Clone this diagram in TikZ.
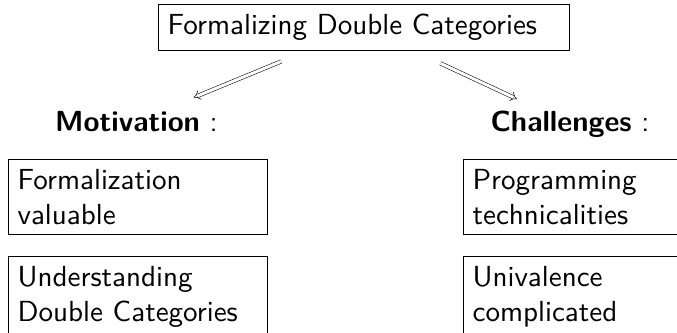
\documentclass[tikz,border=0pt]{standalone}
\usepackage{fontspec}
\setsansfont{lmsans10-regular.otf}[BoldFont=lmsans10-bold.otf]
\usetikzlibrary{arrows.meta}
\renewcommand{\familydefault}{\sfdefault}
\tikzset{
	every node/.style={font=\fontsize{21.8}{26}\selectfont},
	topbox/.style={draw, anchor=west, align=left, text width=294pt, inner xsep=7pt, inner ysep=7.5pt},
	itembox/.style={draw, anchor=north west, align=left, text width=180pt, inner xsep=7pt, inner ysep=7.5pt},
	heading/.style={anchor=base},
	implies/.style={draw, thin, double, double distance=2.2pt, -{Implies[scale=1.4]}},
}
\begin{document}
\begin{tikzpicture}[x=0.75pt, y=-0.75pt]
	\useasboundingbox (0,0) rectangle (677,332);
	\clip (0,0) rectangle (677,332);
	\node[topbox] (top) at (158,27.5) {Formalizing Double Categories};

	\node[heading] (motiv) at (136.5,131) {\textbf{Motivation} :};
	\node[heading] (chall) at (570,131) {\textbf{Challenges} :};

	\draw[implies, shorten <=20.6pt, shorten >=17pt] (top) -- (motiv);
	\draw[implies, shorten <=21.8pt, shorten >=12pt] (top) -- (chall);

	\node[itembox] (valuable) at (8,159) {Formalization\\valuable};
	\node[itembox] (understand) at (8,256) {Understanding\\Double Categories};
	\node[itembox] (technical) at (463,159) {Programming\\technicalities};
	\node[itembox] (univalence) at (463,256) {Univalence\\complicated};
\end{tikzpicture}
\end{document}
